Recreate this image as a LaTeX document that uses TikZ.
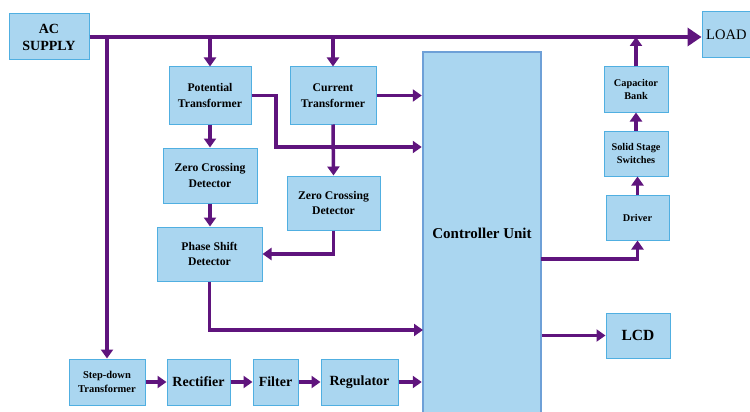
\documentclass[tikz,border=0pt]{standalone}
\usepackage{fontspec}
\setmainfont{Liberation Serif}
\usetikzlibrary{arrows.meta}
\definecolor{boxfill}{RGB}{170,214,240}
\definecolor{boxline}{RGB}{80,175,225}
\definecolor{ctrlline}{RGB}{110,160,215}
\definecolor{wirecol}{RGB}{95,20,125}
\tikzset{
  box/.style={draw=boxline,fill=boxfill,line width=1pt,align=center,
    inner sep=1pt,font=\bfseries\fontsize{11.7}{15.5}\selectfont},
  wire/.style={draw=wirecol,line width=3.5pt,
    -{Triangle[length=9pt,width=12pt]}},
  bus/.style={draw=wirecol,line width=4.5pt,
    -{Triangle[length=14pt,width=18pt]}}
}
\begin{document}
\begin{tikzpicture}[x=1pt,y=-1pt]
  \clip (0,0) rectangle (750,412);
  % blocks
  \node[box,minimum width=80,minimum height=46,font=\bfseries\fontsize{14}{17}\selectfont] (ac) at (49,37) {AC\\SUPPLY};
  \node[box,minimum width=56,minimum height=46,font=\fontsize{14.5}{16}\selectfont] (load) at (730,35) {LOAD\phantom{x}};
  \node[box,minimum width=82,minimum height=57] (pt) at (210,95.5) {Potential\\Transformer};
  \node[box,minimum width=86,minimum height=57] (ct) at (333,95.5) {Current\\Transformer};
  \node[box,minimum width=94,minimum height=55] (zcda) at (210,175.5) {Zero Crossing\\Detector};
  \node[box,minimum width=93,minimum height=54] (zcdb) at (333.5,203) {Zero Crossing\\Detector};
  \node[box,minimum width=105,minimum height=54] (psd) at (209.5,254) {Phase Shift\\Detector};
  \node[box,minimum width=76,minimum height=46,font=\bfseries\fontsize{10.5}{13.5}\selectfont] (sdt) at (107,382) {Step-down\\Transformer};
  \node[box,minimum width=63,minimum height=46,font=\bfseries\fontsize{14}{15}\selectfont] (rect) at (198.5,382) {Rectifier};
  \node[box,minimum width=45,minimum height=46,font=\bfseries\fontsize{14}{15}\selectfont] (filt) at (275.5,382) {Filter};
  \node[box,minimum width=77,minimum height=46,font=\bfseries\fontsize{14}{15}\selectfont] (reg) at (359.5,382) {Regulator};
  \node[box,draw=ctrlline,line width=2.5pt,minimum width=118,minimum height=362,font=\bfseries\fontsize{15}{17}\selectfont] (ctrl) at (482,233) {Controller Unit};
  \node[box,minimum width=63,minimum height=45,font=\bfseries\fontsize{10.3}{13}\selectfont] (drv) at (637.5,217.5) {Driver};
  \node[box,minimum width=64,minimum height=45,font=\bfseries\fontsize{10.3}{13.5}\selectfont] (sss) at (636,153.5) {Solid Stage\\Switches};
  \node[box,minimum width=64,minimum height=45,font=\bfseries\fontsize{10.3}{13.5}\selectfont] (cap) at (636,89.5) {Capacitor\\Bank};
  \node[box,minimum width=64,minimum height=45,font=\bfseries\fontsize{15.5}{17}\selectfont] (lcd) at (638,335.5) {LCD};
  % bends
  \coordinate (ptbend) at (276,147);
  \coordinate (psdin) at (423,330);
  \coordinate (ctrlout) at (541,259);
  % supply line
  \draw[bus] (ac.east) -- (load.west |- ac.east);
  \draw[wire] (sdt |- ac.east) -- (sdt.north);
  \draw[wire] (pt |- ac.east) -- (pt.north);
  \draw[wire] (ct |- ac.east) -- (ct.north);
  \draw[wire] (cap.north) -- (cap |- ac.east);
  % measuring side
  \draw[wire] (ct.east) -- (ctrl.west |- ct.east);
  \draw[wire] (pt.east) -| (ptbend) -- (ctrl.west |- ptbend);
  \draw[wire] (pt.south) -- (zcda.north);
  \draw[wire] (zcda.south) -- (psd.north -| zcda.south);
  \draw[wire] (ct.south) -- (zcdb.north);
  \draw[wire] (zcdb.south) |- (psd.east);
  \draw[wire] (psd.south) |- (psdin);
  % power supply chain
  \foreach \a/\b in {sdt/rect,rect/filt,filt/reg}
    \draw[wire] (\a.east) -- (\b.west);
  \draw[wire] (reg.east) -- (ctrl.west |- reg.east);
  % output side
  \draw[wire] (ctrlout) -| (drv.south);
  \draw[wire] (drv.north) -- (sss.south -| drv.north);
  \draw[wire] (sss.north) -- (cap.south);
  \draw[wire] (ctrl.east |- lcd.west) -- (lcd.west);
\end{tikzpicture}
\end{document}
